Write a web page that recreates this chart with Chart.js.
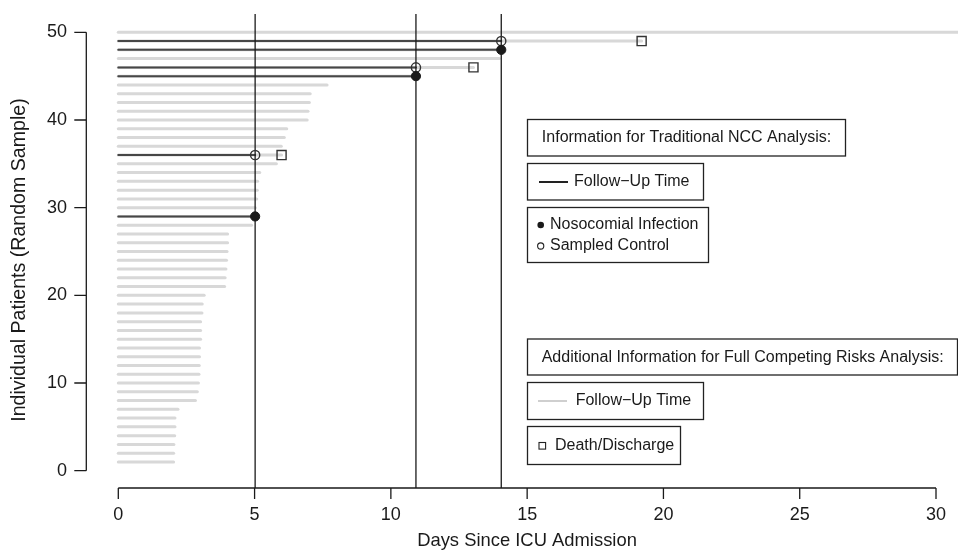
<!DOCTYPE html>
<html>
<head>
<meta charset="utf-8">
<script src="https://cdn.jsdelivr.net/npm/chart.js@4.4.1/dist/chart.umd.min.js"></script>
<style>
  html, body { margin: 0; padding: 0; background: #fff; }
  #wrap { width: 958px; height: 550px; }
</style>
</head>
<body>
<div id="wrap"><canvas id="nccChart" width="958" height="550"></canvas></div>
<script>
// patients of the random sample, 1 = bottom row
const patientIds = [1, 2, 3, 4, 5, 6, 7, 8, 9, 10, 11, 12, 13, 14, 15, 16, 17, 18, 19, 20,
  21, 22, 23, 24, 25, 26, 27, 28, 29, 30, 31, 32, 33, 34, 35, 36, 37, 38, 39, 40,
  41, 42, 43, 44, 45, 46, 47, 48, 49, 50];

// full follow-up time in days (grey lines)
const followUpDays = [2.03, 2.03, 2.04, 2.07, 2.08, 2.08, 2.19, 2.83, 2.90, 2.94,
  2.96, 2.97, 2.98, 2.98, 3.02, 3.02, 3.02, 3.07, 3.08, 3.15,
  3.90, 3.92, 3.95, 3.97, 3.99, 4.01, 4.01, 4.89, 5.02, 5.03,
  5.08, 5.10, 5.11, 5.19, 5.80, 5.99, 5.98, 6.09, 6.18, 6.93,
  6.96, 7.01, 7.04, 7.66, 10.92, 13.03, 13.98, 14.05, 19.20, 32.0];

// nosocomial infections (cases) and sampled controls
const caseIds = [29, 45, 48];
const caseDays = [5.02, 10.92, 14.05];
const controlIds = [36, 46, 49];
const controlDays = [5.02, 10.92, 14.05];
// death / discharge of the sampled controls
const controlEndDays = [5.99, 13.03, 19.20];
// infection times (vertical lines)
const eventDays = [5.02, 10.92, 14.05];

const xTicks = [0, 5, 10, 15, 20, 25, 30];
const yTicks = [0, 10, 20, 30, 40, 50];

const X_MIN = 0, X_MAX = 30.807;
const Y_MIN = -1.973, Y_MAX = 52.1;

const INK = "#1a1a1a";
const GREY = "#d8d8d8";
const DARK = "#474747";
const FONT = "'Liberation Sans', Arial, Helvetica, sans-serif";

const datasets = [];

// grey full follow-up
patientIds.forEach((id, i) => {
  datasets.push({
    data: [{ x: 0, y: id }, { x: followUpDays[i], y: id }],
    showLine: true,
    borderColor: GREY,
    borderWidth: 3,
    borderCapStyle: "round",
    pointRadius: 0,
    clip: false,
    order: 4,
  });
});

// dark follow-up for traditional NCC analysis
[...caseIds, ...controlIds].forEach((id, i) => {
  const t = [...caseDays, ...controlDays][i];
  datasets.push({
    data: [{ x: 0, y: id }, { x: t, y: id }],
    showLine: true,
    borderColor: DARK,
    borderWidth: 2,
    borderCapStyle: "round",
    pointRadius: 0,
    clip: false,
    order: 3,
  });
});

// vertical lines at infection times
eventDays.forEach((t) => {
  datasets.push({
    data: [{ x: t, y: Y_MIN }, { x: t, y: Y_MAX }],
    showLine: true,
    borderColor: INK,
    borderWidth: 1.3,
    pointRadius: 0,
    clip: false,
    order: 2,
  });
});

// points
datasets.push({
  label: "Nosocomial Infection",
  data: caseIds.map((id, i) => ({ x: caseDays[i], y: id })),
  pointRadius: 4.6,
  pointBackgroundColor: INK,
  pointBorderColor: INK,
  pointBorderWidth: 1,
  clip: false,
  order: 1,
});
datasets.push({
  label: "Sampled Control",
  data: controlIds.map((id, i) => ({ x: controlDays[i], y: id })),
  pointRadius: 4.6,
  pointBackgroundColor: "rgba(0,0,0,0)",
  pointBorderColor: "#333",
  pointBorderWidth: 1.4,
  clip: false,
  order: 1,
});
datasets.push({
  label: "Death/Discharge",
  data: controlIds.map((id, i) => ({ x: controlEndDays[i], y: id })),
  pointStyle: "rect",
  pointRadius: 6.4,
  pointBackgroundColor: "rgba(0,0,0,0)",
  pointBorderColor: "#333",
  pointBorderWidth: 1.4,
  clip: false,
  order: 1,
});

// R-style axes and boxed legends
const decorations = {
  id: "decorations",
  afterDraw(chart) {
    const ctx = chart.ctx;
    const xs = chart.scales.x;
    const ys = chart.scales.y;
    ctx.save();
    ctx.strokeStyle = INK;
    ctx.fillStyle = INK;
    ctx.lineWidth = 1.3;

    // x axis
    const axisY = ys.getPixelForValue(Y_MIN);
    ctx.beginPath();
    ctx.moveTo(xs.getPixelForValue(xTicks[0]), axisY);
    ctx.lineTo(xs.getPixelForValue(xTicks[xTicks.length - 1]), axisY);
    xTicks.forEach((v) => {
      const px = xs.getPixelForValue(v);
      ctx.moveTo(px, axisY);
      ctx.lineTo(px, axisY + 11);
    });
    ctx.stroke();
    ctx.font = "18px " + FONT;
    ctx.textAlign = "center";
    ctx.textBaseline = "middle";
    xTicks.forEach((v) => ctx.fillText(String(v), xs.getPixelForValue(v), 515));

    // y axis
    const axisX = xs.getPixelForValue(0) - 32;
    ctx.beginPath();
    ctx.moveTo(axisX, ys.getPixelForValue(yTicks[0]));
    ctx.lineTo(axisX, ys.getPixelForValue(yTicks[yTicks.length - 1]));
    yTicks.forEach((v) => {
      const py = ys.getPixelForValue(v);
      ctx.moveTo(axisX, py);
      ctx.lineTo(axisX - 12, py);
    });
    ctx.stroke();
    ctx.textAlign = "right";
    yTicks.forEach((v) => ctx.fillText(String(v), 67, ys.getPixelForValue(v)));

    // axis titles
    ctx.font = "18.4px " + FONT;
    ctx.textAlign = "center";
    ctx.fillText("Days Since ICU Admission", 527, 541);
    ctx.save();
    ctx.translate(20, 260);
    ctx.rotate(-Math.PI / 2);
    ctx.font = "19.6px " + FONT;
    ctx.fillText("Individual Patients (Random Sample)", 0, 0);
    ctx.restore();

    // legend boxes
    ctx.lineWidth = 1.3;
    ctx.strokeStyle = "#222";
    const boxes = [
      [527.5, 119.5, 318, 36.5],
      [527.5, 163.5, 176, 36.5],
      [527.5, 207.5, 181, 55],
      [527.5, 339, 430, 36],
      [527.5, 382.5, 176, 37],
      [527.5, 426.5, 153, 38],
    ];
    boxes.forEach((b) => ctx.strokeRect(b[0], b[1], b[2], b[3]));

    ctx.font = "16px " + FONT;
    ctx.textAlign = "center";
    ctx.fillText("Information for Traditional NCC Analysis:", 686.5, 138);
    ctx.textAlign = "left";
    ctx.fillText("Follow\u2212Up Time", 574, 182);
    ctx.fillText("Nosocomial Infection", 550, 225);
    ctx.fillText("Sampled Control", 550, 246);
    ctx.fillText("Additional Information for Full Competing Risks Analysis:", 541.7, 357.5);
    ctx.fillText("Follow\u2212Up Time", 575.7, 401);
    ctx.fillText("Death/Discharge", 555, 446);

    // legend symbols
    ctx.lineWidth = 2;
    ctx.strokeStyle = "#222";
    ctx.beginPath();
    ctx.moveTo(539, 182);
    ctx.lineTo(568, 182);
    ctx.stroke();
    ctx.strokeStyle = "#cfcfcf";
    ctx.beginPath();
    ctx.moveTo(538, 401);
    ctx.lineTo(567, 401);
    ctx.stroke();

    ctx.strokeStyle = "#222";
    ctx.lineWidth = 1.1;
    ctx.beginPath();
    ctx.arc(540.7, 225, 3.3, 0, Math.PI * 2);
    ctx.fill();
    ctx.beginPath();
    ctx.arc(540.7, 246, 3.1, 0, Math.PI * 2);
    ctx.stroke();
    ctx.strokeRect(539, 442.5, 6.6, 6.6);

    ctx.restore();
  },
};

new Chart(document.getElementById("nccChart"), {
  type: "scatter",
  data: { datasets: datasets },
  options: {
    responsive: false,
    animation: false,
    layout: { autoPadding: false, padding: { left: 118.3, right: 0, top: 13.9, bottom: 62 } },
    plugins: { legend: { display: false }, tooltip: { enabled: false } },
    scales: {
      x: { type: "linear", min: X_MIN, max: X_MAX, display: false },
      y: { type: "linear", min: Y_MIN, max: Y_MAX, display: false },
    },
  },
  plugins: [decorations],
});
</script>
</body>
</html>
